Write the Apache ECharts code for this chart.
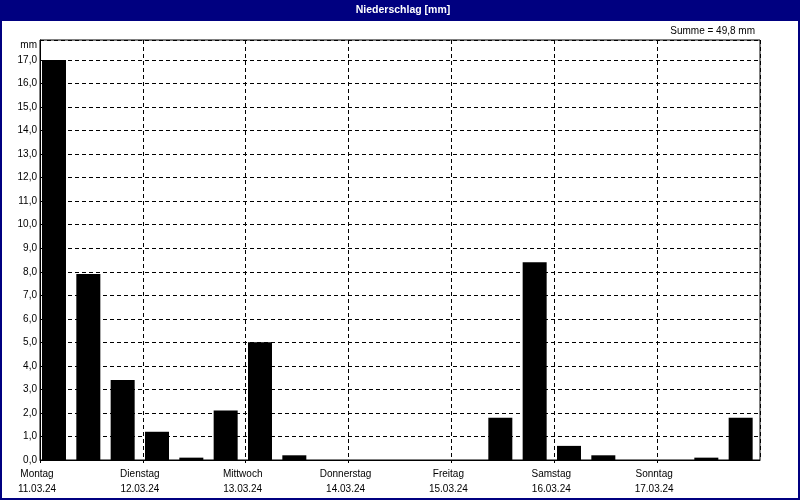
<!DOCTYPE html>
<html>
<head>
<meta charset="utf-8">
<script src="https://cdn.jsdelivr.net/npm/echarts@6/dist/echarts.min.js"></script>
<style>html,body{margin:0;padding:0;background:#fff}#c{width:800px;height:500px}</style>
</head>
<body>
<div id="c"></div>
<script>
var days = ['Montag','Dienstag','Mittwoch','Donnerstag','Freitag','Samstag','Sonntag'];
var dates = ['11.03.24','12.03.24','13.03.24','14.03.24','15.03.24','16.03.24','17.03.24'];
var slots = ['Mo 1','Mo 2','Mo 3','Di 1','Di 2','Di 3','Mi 1','Mi 2','Mi 3','Do 1','Do 2','Do 3','Fr 1','Fr 2','Fr 3','Sa 1','Sa 2','Sa 3','So 1','So 2','So 3'];
var rain = [17.0, 7.9, 3.4, 1.2, 0.1, 2.1, 5.0, 0.2, 0, 0, 0, 0, 0, 1.8, 8.4, 0.6, 0.2, 0, 0, 0.1, 1.8];
var yMax = 17.85;

var total = rain.reduce(function(a,b){return a+b;},0);
var FONT = 'Liberation Sans';
var chart = echarts.init(document.getElementById('c'), null, {renderer:'canvas'});
var dash = {color:'#000', type:[4,3], width:1};
chart.setOption({
  animation:false,
  backgroundColor:'#ffffff',
  textStyle:{fontFamily:FONT},
  grid:[
    {left:40, top:40, width:720, height:420, show:true, borderColor:'#000', borderWidth:1, backgroundColor:'#fff'},
    {left:36.83, top:40, width:721, height:420}
  ],
  xAxis:[
    {gridIndex:0, type:'value', min:0, max:7, interval:1,
     axisLine:{show:true, lineStyle:{color:'#000'}},
     axisTick:{show:true, length:3, lineStyle:{color:'#000'}},
     splitLine:{show:true, lineStyle:dash},
     axisLabel:{show:true, margin:7, color:'#000', fontSize:10, fontFamily:FONT, lineHeight:15,
       padding:[0,6,0,0], showMaxLabel:false,
       formatter:function(v){var i=Math.round(v); return (i<7)? days[i]+'\n'+dates[i] : '';}}},
    {gridIndex:1, type:'category', data:slots, show:false}
  ],
  yAxis:[
    {gridIndex:0, type:'value', min:0, max:yMax, interval:1,
     axisLine:{show:true, lineStyle:{color:'#000'}},
     axisTick:{show:false},
     splitLine:{show:true, lineStyle:dash},
     axisLabel:{margin:3, color:'#000', fontSize:10, fontFamily:FONT, showMaxLabel:false,
       formatter:function(v){return (Math.abs(v-Math.round(v))<1e-6)? v.toFixed(1).replace('.',',') : '';}}},
    {gridIndex:1, type:'value', min:0, max:yMax, interval:1, show:false, splitLine:{show:false}}
  ],
  series:[
    {type:'bar', xAxisIndex:1, yAxisIndex:1, data:rain, barWidth:24, itemStyle:{color:'#000'}, z:5}
  ],
  graphic:[
    {type:'rect', shape:{x:0,y:0,width:800,height:21}, style:{fill:'#000080'}, z:10},
    {type:'rect', shape:{x:1,y:1,width:798,height:498}, style:{fill:null, stroke:'#000080', lineWidth:2}, z:10},
    {type:'text', x:403, y:10.5, style:{text:'Niederschlag [mm]', fill:'#fff', font:'bold 10.5px "Liberation Sans"', align:'center', verticalAlign:'middle'}, z:11},
    {type:'text', x:37, y:45, style:{text:'mm', fill:'#000', font:'10px "Liberation Sans"', align:'right', verticalAlign:'middle'}, z:11},
    {type:'text', x:755, y:31, style:{text:'Summe = '+total.toFixed(1).replace('.',',')+' mm', fill:'#000', font:'10px "Liberation Sans"', align:'right', verticalAlign:'middle'}, z:11}
  ]
});
</script>
</body>
</html>
